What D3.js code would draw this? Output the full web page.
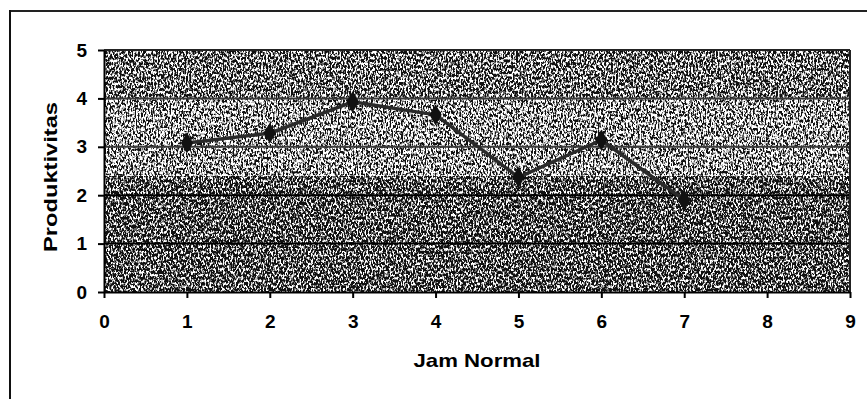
<!DOCTYPE html>
<html><head><meta charset="utf-8">
<script src="https://cdn.jsdelivr.net/npm/d3@7"></script>
<style>body{margin:0;background:#fff}svg{display:block}</style>
</head><body>
<script>
const xValues = [1, 2, 3, 4, 5, 6, 7];
const productivity = [3.08, 3.28, 3.93, 3.66, 2.37, 3.14, 1.9];
const xTicks = [0,1,2,3,4,5,6,7,8,9];
const yTicks = [0,1,2,3,4,5];
const xTitle = "Jam Normal";
const yTitle = "Produktivitas";

const W = 867, H = 399;
const m = {left:104, right:17, top:50, bottom:107};
const FONT = "Liberation Sans, Arial, sans-serif";
const svg = d3.select("body").append("svg").attr("width",W).attr("height",H);
const x = d3.scaleLinear().domain([0,9]).range([m.left, W-m.right]);
const y = d3.scaleLinear().domain([0,5]).range([H-m.bottom, m.top]);
const pw = x(9)-x(0);

const defs = svg.append("defs");
function noiseFilter(id, bias, seed){
  const f = defs.append("filter").attr("id",id).attr("x",0).attr("y",0).attr("width",1).attr("height",1)
    .attr("color-interpolation-filters","sRGB");
  f.append("feTurbulence").attr("type","fractalNoise").attr("baseFrequency","0.6 0.35").attr("numOctaves",2).attr("seed",seed).attr("result","t");
  f.append("feColorMatrix").attr("in","t").attr("type","matrix")
   .attr("values",`0 0 0 0 1  0 0 0 0 1  0 0 0 0 1  4 0 0 0 ${bias}`).attr("result","a");
  f.append("feComponentTransfer").attr("in","a").append("feFuncA").attr("type","discrete").attr("tableValues","0 0.35 0.75 1");
}
noiseFilter("nLight", -1.45, 3);
noiseFilter("nTop", -1.6, 5);
noiseFilter("nDark", -1.72, 7);

// plot background
const bands = [[4,5,"nTop"],[2.4,4,"nLight"],[0,2.4,"nDark"]];
svg.append("g").selectAll("rect").data(bands).join("rect")
 .attr("x",x(0)).attr("y",d=>y(d[1])).attr("width",pw).attr("height",d=>y(d[0])-y(d[1])).attr("fill","#111");
svg.append("g").selectAll("rect").data(bands).join("rect")
 .attr("x",x(0)).attr("y",d=>y(d[1])).attr("width",pw).attr("height",d=>y(d[0])-y(d[1]))
 .attr("fill","#fff").attr("filter",d=>`url(#${d[2]})`);

// gridlines
svg.append("g").selectAll("line").data([1,2,3,4]).join("line")
 .attr("x1",x(0)).attr("x2",x(9)).attr("y1",d=>y(d)).attr("y2",d=>y(d))
 .attr("stroke",d=>d<=2?"#000":"#3a3a3a").attr("stroke-width",2);
svg.append("line").attr("x1",x(0)).attr("x2",x(9)).attr("y1",y(5)).attr("y2",y(5)).attr("stroke","#222").attr("stroke-width",2);
svg.append("line").attr("x1",x(9)).attr("x2",x(9)).attr("y1",y(5)).attr("y2",y(0)).attr("stroke","#222").attr("stroke-width",2);

// axes
const tf = g=>g.selectAll("text").attr("font-family",FONT).attr("font-weight","bold").attr("font-size",19).attr("fill","#000");
const xa = svg.append("g").attr("transform",`translate(0,${y(0)})`)
 .call(d3.axisBottom(x).tickValues(xTicks).tickFormat(d3.format("d")).tickSize(6).tickSizeOuter(0).tickPadding(17));
xa.call(tf); xa.selectAll("line,path").attr("stroke","#000").attr("stroke-width",2);
const ya = svg.append("g").attr("transform",`translate(${x(0)},0)`)
 .call(d3.axisLeft(y).tickValues(yTicks).tickFormat(d3.format("d")).tickSize(6).tickSizeOuter(0).tickPadding(11));
ya.call(tf); ya.selectAll("line,path").attr("stroke","#000").attr("stroke-width",2);

// titles
svg.append("text").attr("x",x(4.5)).attr("y",367).attr("text-anchor","middle")
 .attr("textLength",127).attr("lengthAdjust","spacingAndGlyphs")
 .attr("font-family",FONT).attr("font-weight","bold").attr("font-size",19).text(xTitle);
svg.append("text").attr("transform",`translate(57,177) rotate(-90)`).attr("text-anchor","middle")
 .attr("textLength",150).attr("lengthAdjust","spacingAndGlyphs")
 .attr("font-family",FONT).attr("font-weight","bold").attr("font-size",19).text(yTitle);

// series
const pts = xValues.map((v,i)=>[v,productivity[i]]);
svg.append("path").datum(pts).attr("fill","none").attr("stroke","#2a2a2a").attr("stroke-width",3.5)
 .attr("stroke-linejoin","round").attr("d",d3.line().x(d=>x(d[0])).y(d=>y(d[1])));
svg.append("g").selectAll("path").data(pts).join("path")
 .attr("transform",d=>`translate(${x(d[0])},${y(d[1])})`)
 .attr("d",d3.symbol(d3.symbolDiamond,130)).attr("fill","#111");

// frame
svg.append("line").attr("x1",9).attr("x2",W).attr("y1",11).attr("y2",11).attr("stroke","#222").attr("stroke-width",2);
svg.append("line").attr("x1",10).attr("x2",10).attr("y1",10).attr("y2",H).attr("stroke","#111").attr("stroke-width",2);
</script>
</body></html>
